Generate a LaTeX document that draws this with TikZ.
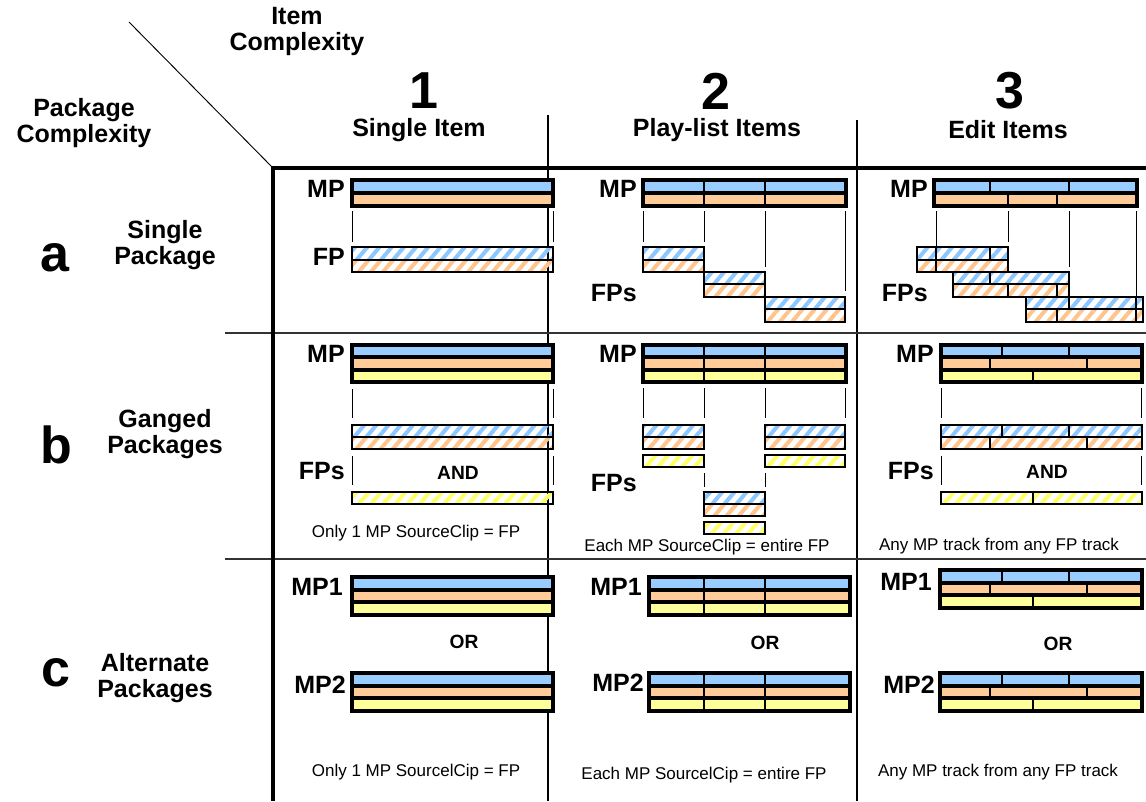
\documentclass[tikz,border=0pt]{standalone}
\usepackage{fontspec}
\setmainfont{Liberation Sans}
\usetikzlibrary{patterns.meta}
\definecolor{cb}{HTML}{99CCFF}
\definecolor{co}{HTML}{FFCC99}
\definecolor{cy}{HTML}{FFFF99}
\definecolor{hb}{HTML}{8CC6FF}
\definecolor{ho}{HTML}{FFC48C}
\definecolor{hy}{HTML}{FFFF66}
\tikzset{
 mp/.style={draw=black, line width=2.3pt},
 mpb/.style={mp, fill=cb}, mpo/.style={mp, fill=co}, mpy/.style={mp, fill=cy},
 fp/.style={draw=black, line width=1.7pt},
 hatch/.style={pattern={Lines[angle=50,distance=7pt,line width=3pt]}, pattern color=#1},
 fpb/.style={fp, hatch=hb}, fpo/.style={fp, hatch=ho}, fpy/.style={fp, hatch=hy},
 dv/.style={line width=1.1pt},
 ln/.style={line width=0.6pt},
 big/.style={font=\fontsize{39}{39}\selectfont\bfseries, inner sep=0pt},
 med/.style={font=\fontsize{18.75}{19.5}\selectfont\bfseries, align=center, inner sep=0pt},
 lab/.style={font=\fontsize{18.75}{19.5}\selectfont\bfseries, anchor=east, inner sep=0pt},
 sml/.style={font=\fontsize{14.4}{15}\selectfont\bfseries, inner sep=0pt},
 captxt/.style={font=\fontsize{12.75}{14}\selectfont, inner sep=0pt},
}
\newcommand\trk[5]{\draw[#1] (#2,#3) rectangle (#4,#5);}
\newcommand\vd[3]{\draw[dv] (#1,#2) -- (#1,#3);}
\newcommand\vl[3]{\draw[ln] (#1,#2) -- (#1,#3);}
\begin{document}
\begin{tikzpicture}[x=0.75pt,y=-0.75pt]
\useasboundingbox (0,0) rectangle (1146,801);
% grid
\draw[line width=0.7pt] (129,22) -- (273,168);
\draw[line width=0.8pt] (548,115) -- (548,801);
\draw[line width=0.8pt] (857,120) -- (857,801);
\draw[line width=1.1pt, black!80] (225,333) -- (1146,333);
\draw[line width=1.1pt, black!80] (225,559) -- (1146,559);
\draw[line width=2.6pt] (1146,168) -- (273,168) -- (273,801);
% headers
\node[med] (ic) at (297,31) {Item\\Complexity};
\node[med] (pc) at (84,123) {Package\\Complexity};
\node[big] (h1) at (424,91) {1};
\node[med] (t1) at (419,130) {Single Item};
\node[big] (h2) at (716,91) {2};
\node[med] (t2) at (717,130) {Play-list Items};
\node[big] (h3) at (1010,91) {3};
\node[med] (t3) at (1008,130) {Edit Items};
\node[big] (ra) at (55,258) {a};
\node[med] (la) at (165,245) {Single\\Package};
\node[big] (rb) at (56,445) {b};
\node[med] (lb) at (165,434) {Ganged\\Packages};
\node[big] (rc) at (56,673) {c};
\node[med] (lc) at (155,678) {Alternate\\Packages};

% ===== row a, col 1
\trk{mpb}{352}{180}{553}{193}\trk{mpo}{352}{193}{553}{206}
\vl{352}{211}{242}\vl{553}{211}{242}
\trk{fpb}{352}{247}{553}{260}\trk{fpo}{352}{260}{553}{272}
\node[lab] (a1mp) at (345,189) {MP};
\node[lab] (a1fp) at (345,257) {FP};
% ===== row a, col 2
\trk{mpb}{643}{180}{846}{193}\trk{mpo}{643}{193}{846}{206}
\vd{704}{180}{206}\vd{765}{180}{206}
\vl{643}{211}{242}\vl{704}{211}{242}\vl{765}{211}{267}\vl{845}{211}{291}
\trk{fpb}{643}{247}{704}{260}\trk{fpo}{643}{260}{704}{272}
\trk{fpb}{704}{272}{765}{284}\trk{fpo}{704}{284}{765}{297}
\trk{fpb}{765}{297}{845}{309}\trk{fpo}{765}{309}{845}{322}
\node[lab] (a2mp) at (637,189) {MP};
\node[lab] (a2fp) at (637,293) {FPs};
% ===== row a, col 3
\trk{mpb}{934}{180}{1137}{193}\trk{mpo}{934}{193}{1137}{206}
\vd{990}{180}{193}\vd{1069}{180}{193}\vd{1008}{193}{206}\vd{1057}{193}{206}
\vl{936}{211}{247}\vl{1008}{211}{242}\vl{1069}{211}{267}\vl{1136}{211}{297}
\trk{fpb}{917}{247}{1008}{260}\trk{fpo}{917}{260}{1008}{272}
\vd{936}{247}{272}\vd{990}{247}{260}
\trk{fpb}{953}{272}{1069}{284}\trk{fpo}{953}{284}{1069}{297}
\vd{990}{272}{284}\vd{1008}{284}{297}\vd{1057}{284}{297}
\trk{fpb}{1026}{297}{1143}{309}\trk{fpo}{1026}{309}{1143}{322}
\vd{1069}{297}{309}\vd{1136}{297}{322}\vd{1057}{309}{322}
\node[lab] (a3mp) at (928,189) {MP};
\node[lab] (a3fp) at (928,293) {FPs};

% ===== row b, col 1
\trk{mpb}{352}{345}{553}{357}\trk{mpo}{352}{357}{553}{370}\trk{mpy}{352}{370}{553}{382}
\vl{352}{389}{418}\vl{553}{389}{418}
\trk{fpb}{352}{425}{553}{437}\trk{fpo}{352}{437}{553}{449}
\vl{352}{456}{485}\vl{553}{456}{485}
\trk{fpy}{352}{492}{553}{504}
\node[sml] (b1and) at (458,473) {AND};
\node[lab] (b1mp) at (345,354) {MP};
\node[lab] (b1fp) at (345,471) {FPs};
\node[captxt] (b1c) at (416,533) {Only 1 MP SourceClip = FP};
% ===== row b, col 2
\trk{mpb}{643}{345}{846}{357}\trk{mpo}{643}{357}{846}{370}\trk{mpy}{643}{370}{846}{382}
\vd{704}{345}{382}\vd{765}{345}{382}
\vl{643}{388}{418}\vl{704}{388}{418}\vl{765}{388}{418}\vl{845}{388}{418}
\trk{fpb}{643}{425}{704}{437}\trk{fpo}{643}{437}{704}{449}\trk{fpy}{643}{455}{704}{467}
\trk{fpb}{765}{425}{845}{437}\trk{fpo}{765}{437}{845}{449}\trk{fpy}{765}{455}{845}{467}
\vl{704}{473}{487}\vl{765}{473}{487}
\trk{fpb}{704}{492}{765}{504}\trk{fpo}{704}{504}{765}{516}\trk{fpy}{704}{522}{765}{534}
\node[lab] (b2mp) at (637,354) {MP};
\node[lab] (b2fp) at (637,483) {FPs};
\node[captxt] (b2c) at (707,547) {Each MP SourceClip = entire FP};
% ===== row b, col 3
\trk{mpb}{941}{345}{1142}{357}\trk{mpo}{941}{357}{1142}{370}\trk{mpy}{941}{370}{1142}{382}
\vd{1002}{345}{357}\vd{1069}{345}{357}\vd{990}{357}{370}\vd{1087}{357}{370}\vd{1033}{370}{382}
\vl{941}{388}{418}\vl{1141}{388}{418}
\trk{fpb}{941}{425}{1142}{437}\trk{fpo}{941}{437}{1142}{449}
\vd{1002}{425}{437}\vd{1069}{425}{437}\vd{990}{437}{449}\vd{1087}{437}{449}
\vl{941}{456}{485}\vl{1141}{456}{485}
\trk{fpy}{941}{492}{1142}{504}\vd{1033}{492}{504}
\node[sml] (b3and) at (1047,472) {AND};
\node[lab] (b3mp) at (934,354) {MP};
\node[lab] (b3fp) at (934,471) {FPs};
\node[captxt] (b3c) at (999,546) {Any MP track from any FP track};

% ===== row c, col 1
\trk{mpb}{352}{577}{553}{590}\trk{mpo}{352}{590}{553}{602}\trk{mpy}{352}{602}{553}{615}
\trk{mpb}{352}{673}{553}{686}\trk{mpo}{352}{686}{553}{698}\trk{mpy}{352}{698}{553}{711}
\node[lab] (c1m1) at (343,587) {MP1};
\node[lab] (c1m2) at (346,685) {MP2};
\node[sml] (c1or) at (464,642) {OR};
\node[captxt] (c1c) at (416,772) {Only 1 MP SourcelCip = FP};
% ===== row c, col 2
\trk{mpb}{649}{577}{850}{590}\trk{mpo}{649}{590}{850}{602}\trk{mpy}{649}{602}{850}{615}
\vd{704}{577}{615}\vd{765}{577}{615}
\trk{mpb}{649}{673}{850}{686}\trk{mpo}{649}{686}{850}{698}\trk{mpy}{649}{698}{850}{711}
\vd{704}{673}{711}\vd{765}{673}{711}
\node[lab] (c2m1) at (642,587) {MP1};
\node[lab] (c2m2) at (644,683) {MP2};
\node[sml] (c2or) at (765,643) {OR};
\node[captxt] (c2c) at (704,775) {Each MP SourcelCip = entire FP};
% ===== row c, col 3
\trk{mpb}{940}{570}{1142}{583}\trk{mpo}{940}{583}{1142}{595}\trk{mpy}{940}{595}{1142}{608}
\vd{1002}{570}{583}\vd{1069}{570}{583}\vd{990}{583}{595}\vd{1087}{583}{595}\vd{1033}{595}{608}
\trk{mpb}{940}{673}{1142}{686}\trk{mpo}{940}{686}{1142}{698}\trk{mpy}{940}{698}{1142}{711}
\vd{1002}{673}{686}\vd{1069}{673}{686}\vd{990}{686}{698}\vd{1087}{686}{698}\vd{1033}{698}{711}
\node[lab] (c3m1) at (932,582) {MP1};
\node[lab] (c3m2) at (935,685) {MP2};
\node[sml] (c3or) at (1058,644) {OR};
\node[captxt] (c3c) at (998,772) {Any MP track from any FP track};
\end{tikzpicture}
\end{document}
